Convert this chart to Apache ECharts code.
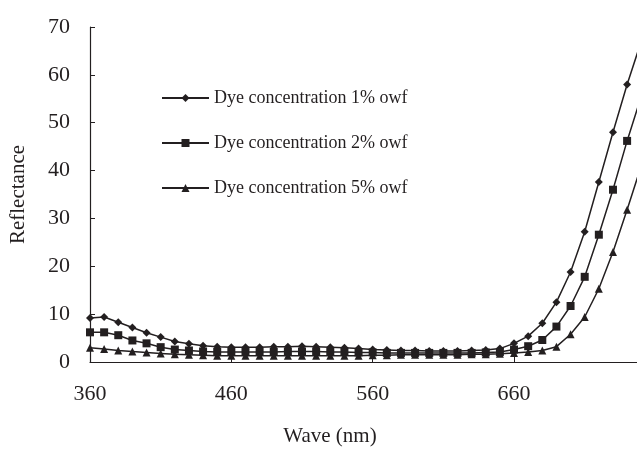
<!DOCTYPE html>
<html>
<head>
<meta charset="utf-8">
<script src="https://cdn.jsdelivr.net/npm/echarts@6/dist/echarts.min.js"></script>
<style>html,body{margin:0;padding:0;background:#fff}#c{width:637px;height:452px}</style>
</head>
<body>
<div id="c"></div>
<script>
const wavelengths = [360,370,380,390,400,410,420,430,440,450,460,470,480,490,500,510,520,530,540,550,560,570,580,590,600,610,620,630,640,650,660,670,680,690,700,710,720,730,740,750];
const dye1 = [9.2,9.4,8.3,7.2,6.1,5.2,4.3,3.8,3.4,3.2,3.1,3.1,3.1,3.2,3.2,3.3,3.2,3.1,3.0,2.8,2.6,2.5,2.4,2.4,2.3,2.3,2.3,2.4,2.5,2.8,3.9,5.4,8.1,12.5,18.8,27.2,37.6,48.0,58.0,67.0];
const dye2 = [6.2,6.2,5.6,4.5,3.9,3.1,2.6,2.4,2.2,2.1,2.1,2.1,2.1,2.1,2.2,2.2,2.2,2.1,2.1,2.0,2.0,1.9,1.9,1.9,1.9,1.9,1.9,1.9,2.0,2.1,2.6,3.3,4.6,7.4,11.7,17.8,26.6,36.0,46.2,55.5];
const dye5 = [3.0,2.7,2.4,2.2,2.0,1.8,1.6,1.5,1.4,1.3,1.3,1.3,1.3,1.3,1.3,1.3,1.3,1.3,1.3,1.3,1.4,1.4,1.5,1.5,1.5,1.5,1.5,1.6,1.6,1.7,1.9,2.1,2.4,3.2,5.8,9.4,15.3,23.0,31.8,41.0];
const seriesNames = ['Dye concentration 1% owf','Dye concentration 2% owf','Dye concentration 5% owf'];
const xTicks = [360,460,560,660];
const yTicks = [0,10,20,30,40,50,60,70];

const ink = '#231f20';
const font = 'Liberation Serif';
function pairs(v){ return wavelengths.map((w,i)=>[w,v[i]]); }
function mk(name, data, symbol, size){
  return {name, type:'line', data:pairs(data), symbol, symbolSize:size, clip:true,
    lineStyle:{color:ink,width:1.5}, itemStyle:{color:ink}, showSymbol:true};
}
const chart = echarts.init(document.getElementById('c'));
chart.setOption({
  animation:false,
  backgroundColor:'#fff',
  grid:{left:90,right:0,top:27,bottom:89,containLabel:false},
  legend:{orient:'vertical',left:161,top:89,padding:0,itemWidth:47,itemHeight:10,itemGap:27,
    textStyle:{fontFamily:font,fontSize:18,color:ink}, data:seriesNames},
  xAxis:{type:'value',min:xTicks[0],max:747,interval:xTicks[1]-xTicks[0],
    name:'Wave (nm)',nameLocation:'middle',nameGap:64,
    nameTextStyle:{fontFamily:font,fontSize:21,color:ink,padding:[0,67,0,0]},
    axisLine:{lineStyle:{color:ink,width:1.2}},
    axisTick:{inside:true,length:5,lineStyle:{color:ink}},
    axisLabel:{fontFamily:font,fontSize:22,color:ink,margin:21,showMaxLabel:false,
      formatter:v=>xTicks.includes(v)?String(v):''},
    splitLine:{show:false}},
  yAxis:{type:'value',min:yTicks[0],max:yTicks[yTicks.length-1],interval:10,
    name:'Reflectance',nameLocation:'middle',nameGap:61,
    nameTextStyle:{fontFamily:font,fontSize:21,color:ink},
    axisLine:{show:true,lineStyle:{color:ink,width:1.2}},
    axisTick:{show:true,inside:true,length:5,lineStyle:{color:ink}},
    axisLabel:{fontFamily:font,fontSize:22,color:ink,margin:20},
    splitLine:{show:false}},
  series:[
    mk(seriesNames[0], dye1, 'diamond', 8),
    mk(seriesNames[1], dye2, 'rect', 8),
    mk(seriesNames[2], dye5, 'triangle', 8)
  ]
});
</script>
</body>
</html>
